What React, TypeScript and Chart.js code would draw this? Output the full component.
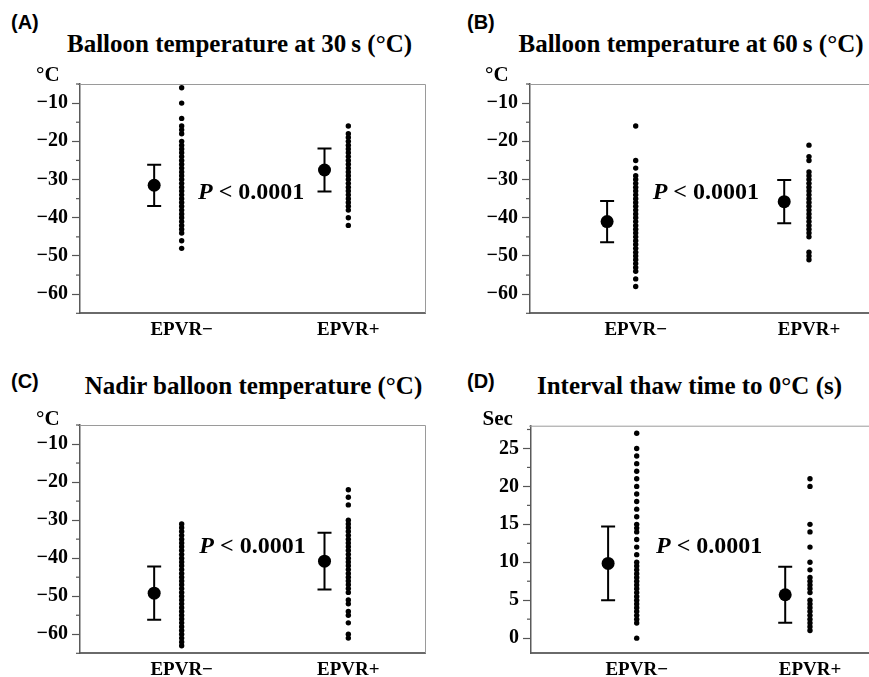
import React, { useEffect, useRef } from 'react';
import { Chart, registerables } from 'chart.js';

Chart.register(...registerables);

// ---------- shared categories / ticks ----------
const CATEGORIES = ['EPVR\u2212', 'EPVR+'];
const CAT_POS = [1, 2];
const MEAN_POS = [0.835, 1.857];

const TEMP_TICKS = [-65, -60, -55, -50, -45, -40, -35, -30, -25, -20, -15, -10, -5];
const TEMP_LABELED = [-60, -50, -40, -30, -20, -10];
const THAW_TICKS = [0, 2.5, 5, 7.5, 10, 12.5, 15, 17.5, 20, 22.5, 25, 27.5];
const THAW_LABELED = [0, 5, 10, 15, 20, 25];

// ---------- (A) Balloon temperature at 30 s ----------
const t30Neg = [-6, -10, -14, -16, -17, -18, -20, -21, -22, -23, -24, -25, -26, -27, -28, -29, -30, -31, -32, -33, -34, -35, -36, -37, -38, -39, -40, -41, -42, -43, -44, -46, -48];
const t30Pos = [-16, -18, -19, -20, -21, -22, -23, -24, -25, -26, -27, -28, -29, -30, -31, -32, -33, -34, -35, -36, -37, -38, -40, -42];
const t30Mean = [-31.5, -27.5];
const t30SD = [5.4, 5.65];

// ---------- (B) Balloon temperature at 60 s ----------
const t60Neg = [-16, -25, -27, -29, -30, -31, -32, -33, -34, -35, -36, -37, -38, -39, -40, -41, -42, -43, -44, -45, -46, -47, -48, -49, -50, -51, -52, -53, -54, -56, -58];
const t60Pos = [-21, -24, -25, -28, -29, -30, -31, -32, -33, -34, -35, -36, -37, -38, -39, -40, -41, -42, -43, -44, -45, -49, -50, -51];
const t60Mean = [-41.0, -35.8];
const t60SD = [5.4, 5.65];

// ---------- (C) Nadir balloon temperature ----------
const nadirNeg = [-31, -32, -33, -34, -35, -36, -37, -38, -39, -40, -41, -42, -43, -44, -45, -46, -47, -48, -49, -50, -51, -52, -53, -54, -55, -56, -57, -58, -59, -60, -61, -62, -63];
const nadirPos = [-22, -24, -26, -30, -31, -32, -33, -34, -35, -36, -37, -38, -39, -40, -41, -42, -43, -44, -45, -46, -47, -48, -49, -51, -52, -54, -55, -57, -60, -61];
const nadirMean = [-49.2, -40.8];
const nadirSD = [7.0, 7.45];

// ---------- (D) Interval thaw time to 0 °C ----------
const thawNeg = [27, 25, 24, 23, 22, 21, 20, 19, 18, 17, 16, 15, 14.5, 14, 13, 12, 11, 10, 9.5, 9, 8.5, 8, 7.5, 7, 6.5, 6, 5.5, 5, 4.5, 4, 3.5, 3, 2.5, 2, 0];
const thawPos = [21, 20, 15, 14, 12, 10, 9, 8, 7.5, 7, 6.5, 6, 5, 4.5, 4, 3.5, 3, 2.5, 2, 1.5, 1];
const thawMean = [9.85, 5.72];
const thawSD = [4.87, 3.7];

const SERIF = "'Liberation Serif', 'Times New Roman', Times, serif";
const SANS = "'Liberation Sans', Arial, Helvetica, sans-serif";

type Rect = { left: number; top: number; right: number; bottom: number };

function fmt(v: number) {
  return v < 0 ? '\u2212' + Math.abs(v) : String(v);
}

function Panel(props: {
  canvas: { left: number; top: number; width: number; height: number };
  box: Rect;
  yMin: number;
  yMax: number;
  ticks: number[];
  labeled: number[];
  neg: number[];
  pos: number[];
  mean: number[];
  sd: number[];
}) {
  const ref = useRef<HTMLCanvasElement>(null);
  const { canvas, box } = props;
  useEffect(() => {
    const padTop = box.top - canvas.top;
    const padRight = canvas.left + canvas.width - box.right;
    const yWidth = box.left - canvas.left;
    const xHeight = canvas.top + canvas.height - box.bottom;

    const decor = {
      id: 'decor',
      beforeDatasetsDraw(chart: any) {
        const { ctx, chartArea } = chart;
        const y = chart.scales.y;
        const x = chart.scales.x;
        ctx.save();
        // light top/right frame
        ctx.strokeStyle = '#9a9a9a';
        ctx.lineWidth = 1;
        ctx.beginPath();
        ctx.moveTo(chartArea.left - 2, chartArea.top + 0.5);
        ctx.lineTo(chartArea.right + 0.5, chartArea.top + 0.5);
        ctx.lineTo(chartArea.right + 0.5, chartArea.bottom);
        ctx.stroke();
        // minor ticks
        ctx.strokeStyle = '#555';
        ctx.lineWidth = 1.2;
        for (const v of props.ticks) {
          if (props.labeled.includes(v)) continue;
          const py = y.getPixelForValue(v);
          ctx.beginPath();
          ctx.moveTo(chartArea.left - 4, py);
          ctx.lineTo(chartArea.left, py);
          ctx.stroke();
        }
        // error bars
        ctx.strokeStyle = '#000';
        ctx.lineWidth = 2;
        for (let i = 0; i < props.mean.length; i++) {
          const px = x.getPixelForValue(MEAN_POS[i]);
          const hi = y.getPixelForValue(props.mean[i] + props.sd[i]);
          const lo = y.getPixelForValue(props.mean[i] - props.sd[i]);
          ctx.beginPath();
          ctx.moveTo(px, hi);
          ctx.lineTo(px, lo);
          ctx.moveTo(px - 7, hi);
          ctx.lineTo(px + 7, hi);
          ctx.moveTo(px - 7, lo);
          ctx.lineTo(px + 7, lo);
          ctx.stroke();
        }
        ctx.restore();
      },
    };

    const chart = new Chart(ref.current as HTMLCanvasElement, {
      type: 'scatter',
      data: {
        datasets: [
          {
            data: props.neg.map((v) => ({ x: CAT_POS[0], y: v })),
            pointRadius: 2.7,
            backgroundColor: '#000',
            borderWidth: 0,
          },
          {
            data: props.pos.map((v) => ({ x: CAT_POS[1], y: v })),
            pointRadius: 2.7,
            backgroundColor: '#000',
            borderWidth: 0,
          },
          {
            data: props.mean.map((v, i) => ({ x: MEAN_POS[i], y: v })),
            pointRadius: 6.5,
            backgroundColor: '#000',
            borderWidth: 0,
          },
        ],
      },
      options: {
        animation: false,
        responsive: false,
        events: [],
        layout: { padding: { top: padTop, right: padRight, left: 0, bottom: 0 } },
        plugins: { legend: { display: false }, tooltip: { enabled: false }, title: { display: false } },
        scales: {
          x: {
            type: 'linear',
            min: 0.39,
            max: 2.46,
            afterBuildTicks: (s: any) => {
              s.ticks = CAT_POS.map((v) => ({ value: v }));
            },
            afterFit: (s: any) => {
              s.height = xHeight;
            },
            grid: { display: false, drawTicks: false },
            border: { display: true, color: '#6a6a6a', width: 2 },
            ticks: {
              autoSkip: false,
              maxRotation: 0,
              padding: 5,
              color: '#000',
              font: { family: SERIF, size: 19, weight: 'bold' },
              callback: (v: any) => CATEGORIES[CAT_POS.indexOf(Number(v))] ?? '',
            },
          },
          y: {
            type: 'linear',
            min: props.yMin,
            max: props.yMax,
            afterBuildTicks: (s: any) => {
              s.ticks = props.ticks.map((v) => ({ value: v }));
            },
            afterFit: (s: any) => {
              s.width = yWidth;
            },
            grid: {
              display: true,
              drawOnChartArea: false,
              drawTicks: true,
              tickLength: 8,
              tickWidth: 1.2,
              tickColor: (c: any) => (props.labeled.includes(c.tick?.value) ? '#555' : 'rgba(0,0,0,0)'),
            },
            border: { display: true, color: '#5a5a5a', width: 1.5 },
            ticks: {
              autoSkip: false,
              padding: 4,
              color: '#000',
              font: { family: SERIF, size: 20, weight: 'bold' },
              callback: (v: any) => (props.labeled.includes(Number(v)) ? fmt(Number(v)) : ''),
            },
          },
        },
      } as any,
      plugins: [decor],
    });
    return () => chart.destroy();
  }, []);
  return (
    <canvas
      ref={ref}
      width={canvas.width}
      height={canvas.height}
      style={{ position: 'absolute', left: canvas.left, top: canvas.top, width: canvas.width, height: canvas.height }}
    />
  );
}

function Txt(props: {
  text: React.ReactNode;
  left: number;
  top: number;
  size: number;
  family: string;
  center?: boolean;
}) {
  const w = 500;
  return (
    <div
      style={{
        position: 'absolute',
        left: props.center ? props.left - w / 2 : props.left,
        top: props.top,
        width: props.center ? w : undefined,
        textAlign: props.center ? 'center' : 'left',
        fontFamily: props.family,
        fontSize: props.size,
        lineHeight: props.size + 'px',
        fontWeight: 'bold',
        whiteSpace: 'nowrap',
        color: '#000',
      }}
    >
      {props.text}
    </div>
  );
}

const PText = () => (
  <span>
    <i>P</i> &lt; 0.0001
  </span>
);

export default function App() {
  return (
    <div
      style={{
        position: 'absolute',
        left: 0,
        top: 0,
        width: 869,
        height: 677,
        overflow: 'hidden',
        background: '#fff',
      }}
    >
      <Panel
        canvas={{ left: 0, top: 60, width: 440, height: 280 }}
        box={{ left: 80, top: 84, right: 425, bottom: 313.3 }}
        yMin={-65}
        yMax={-5}
        ticks={TEMP_TICKS}
        labeled={TEMP_LABELED}
        neg={t30Neg}
        pos={t30Pos}
        mean={t30Mean}
        sd={t30SD}
      />
      <Panel
        canvas={{ left: 440, top: 60, width: 460, height: 280 }}
        box={{ left: 530, top: 84, right: 888.7, bottom: 313.3 }}
        yMin={-65}
        yMax={-5}
        ticks={TEMP_TICKS}
        labeled={TEMP_LABELED}
        neg={t60Neg}
        pos={t60Pos}
        mean={t60Mean}
        sd={t60SD}
      />
      <Panel
        canvas={{ left: 0, top: 400, width: 440, height: 280 }}
        box={{ left: 80, top: 425, right: 425, bottom: 653.3 }}
        yMin={-65}
        yMax={-5}
        ticks={TEMP_TICKS}
        labeled={TEMP_LABELED}
        neg={nadirNeg}
        pos={nadirPos}
        mean={nadirMean}
        sd={nadirSD}
      />
      <Panel
        canvas={{ left: 440, top: 400, width: 460, height: 280 }}
        box={{ left: 531, top: 425.7, right: 889.7, bottom: 653.3 }}
        yMin={-2}
        yMax={28}
        ticks={THAW_TICKS}
        labeled={THAW_LABELED}
        neg={thawNeg}
        pos={thawPos}
        mean={thawMean}
        sd={thawSD}
      />

      <Txt text="(A)" left={11} top={12} size={20} family={SANS} />
      <Txt text="(B)" left={467} top={12} size={20} family={SANS} />
      <Txt text="(C)" left={11} top={371} size={20} family={SANS} />
      <Txt text="(D)" left={467} top={371} size={20} family={SANS} />

      <Txt text={'Balloon temperature at 30\u2009s (\u00B0C)'} left={239.5} top={31.4} size={25} family={SERIF} center />
      <Txt text={'Balloon temperature at 60\u2009s  (\u00B0C)'} left={691} top={31.4} size={25} family={SERIF} center />
      <Txt text={'Nadir balloon temperature (\u00B0C)'} left={253.5} top={373} size={25} family={SERIF} center />
      <Txt text={'Interval thaw time to 0\u00B0C  (s)'} left={689.5} top={373} size={25} family={SERIF} center />

      <Txt text={'\u00B0C'} left={36} top={64} size={21} family={SERIF} />
      <Txt text={'\u00B0C'} left={485} top={64} size={21} family={SERIF} />
      <Txt text={'\u00B0C'} left={36} top={407.5} size={21} family={SERIF} />
      <Txt text="Sec" left={482.5} top={407.5} size={21} family={SERIF} />

      <Txt text={<PText />} left={198} top={179.2} size={24} family={SERIF} />
      <Txt text={<PText />} left={652.7} top={179.2} size={24} family={SERIF} />
      <Txt text={<PText />} left={199.3} top={533.2} size={24} family={SERIF} />
      <Txt text={<PText />} left={656} top={533.2} size={24} family={SERIF} />
    </div>
  );
}
